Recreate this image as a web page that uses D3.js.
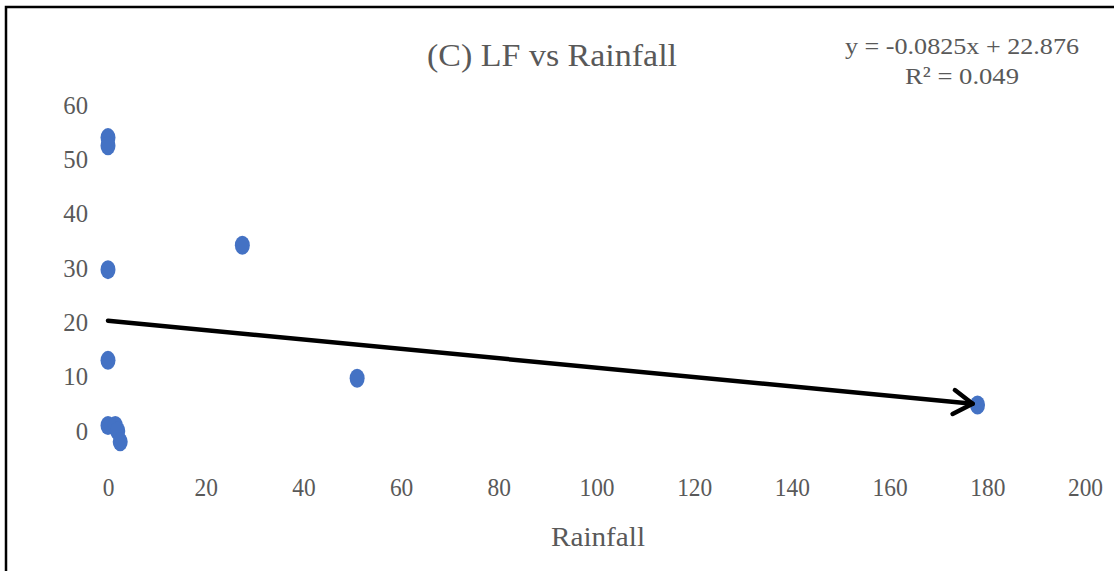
<!DOCTYPE html>
<html>
<head>
<meta charset="utf-8">
<script src="https://cdn.jsdelivr.net/npm/d3@7"></script>
<style>
    body { margin: 0; background: #fff; }
    svg { display: block; }
    text { font-family: "Liberation Serif", "Times New Roman", serif; fill: #595959; }
</style>
</head>
<body>
<div id="chart"></div>
<script>
// values
const rainfall = [0, 0, 0, 0, 0, 1.5, 2, 2.5, 27.5, 51, 178];
const lf = [54, 52.5, 29.7, 13, 1, 1, 0, -2, 34.2, 9.7, 4.8];
const xTicks = [0, 20, 40, 60, 80, 100, 120, 140, 160, 180, 200];
const yTicks = [0, 10, 20, 30, 40, 50, 60];
// hand-drawn arrow in the original: start and end in data units
const arrowFrom = [0, 20.3];
const arrowTo = [177, 5];
const titleText = '(C) LF vs Rainfall';
const eqText = 'y = -0.0825x + 22.876';
const r2Text = 'R² = 0.049';

const W = 1114, H = 571;
const svg = d3.select('#chart').append('svg')
    .attr('width', W)
    .attr('height', H);

const x = d3.scaleLinear().domain([0, 200]).range([108, 1085]);
const y = d3.scaleLinear().domain([0, 60]).range([431, 105]);

// frame: top and left edges only
svg.append('path')
    .attr('d', `M6,${H} V7 H${W}`)
    .attr('fill', 'none')
    .attr('stroke', '#000')
    .attr('stroke-width', 2.5);

svg.append('text')
    .attr('x', 552)
    .attr('y', 66)
    .attr('text-anchor', 'middle')
    .attr('textLength', 250)
    .attr('lengthAdjust', 'spacingAndGlyphs')
    .style('font-size', '31px')
    .text(titleText);

svg.append('text')
    .attr('x', 962)
    .attr('y', 54)
    .attr('text-anchor', 'middle')
    .attr('textLength', 234)
    .attr('lengthAdjust', 'spacingAndGlyphs')
    .style('font-size', '24px')
    .text(eqText);

svg.append('text')
    .attr('x', 962)
    .attr('y', 84)
    .attr('text-anchor', 'middle')
    .attr('textLength', 114)
    .attr('lengthAdjust', 'spacingAndGlyphs')
    .style('font-size', '24px')
    .text(r2Text);

// axes with no lines, labels only
const xAxis = svg.append('g')
    .attr('transform', 'translate(0, 487)')
    .call(d3.axisBottom(x).tickValues(xTicks).tickSize(0).tickPadding(0));
xAxis.select('.domain').remove();
xAxis.selectAll('text')
    .attr('dy', '0.35em')
    .attr('y', 0)
    .style('font-size', '26px')
    .style('font-family', '"Liberation Serif", serif')
    .attr('fill', '#595959')
    .attr('transform', 'scale(0.9, 1)');

const yAxis = svg.append('g')
    .attr('transform', 'translate(88, 0)')
    .call(d3.axisLeft(y).tickValues(yTicks).tickSize(0).tickPadding(0));
yAxis.select('.domain').remove();
yAxis.selectAll('text')
    .style('font-size', '26px')
    .style('font-family', '"Liberation Serif", serif')
    .attr('fill', '#595959')
    .attr('transform', 'scale(0.95, 1)');

svg.append('text')
    .attr('x', 598)
    .attr('y', 546)
    .attr('text-anchor', 'middle')
    .attr('textLength', 94)
    .attr('lengthAdjust', 'spacingAndGlyphs')
    .style('font-size', '28px')
    .text('Rainfall');

// points
svg.selectAll('.dot')
    .data(rainfall.map((r, i) => ({ r, v: lf[i] })))
    .enter().append('ellipse')
    .attr('class', 'dot')
    .attr('cx', d => x(d.r))
    .attr('cy', d => y(d.v))
    .attr('rx', 7.5)
    .attr('ry', 9.5)
    .attr('fill', '#4472c4');

// arrow
svg.append('defs').append('marker')
    .attr('id', 'head')
    .attr('viewBox', '0 0 30 30')
    .attr('refX', 27)
    .attr('refY', 15)
    .attr('markerWidth', 30)
    .attr('markerHeight', 30)
    .attr('markerUnits', 'userSpaceOnUse')
    .attr('orient', 'auto')
    .append('path')
    .attr('d', 'M8,3 L27,15 L8,27')
    .attr('fill', 'none')
    .attr('stroke', '#000')
    .attr('stroke-width', 4.5)
    .attr('stroke-linecap', 'round')
    .attr('stroke-linejoin', 'round');

svg.append('line')
    .attr('x1', x(arrowFrom[0]))
    .attr('y1', y(arrowFrom[1]))
    .attr('x2', x(arrowTo[0]))
    .attr('y2', y(arrowTo[1]))
    .attr('stroke', '#000')
    .attr('stroke-width', 4.5)
    .attr('stroke-linecap', 'round')
    .attr('marker-end', 'url(#head)');
</script>
</body>
</html>
